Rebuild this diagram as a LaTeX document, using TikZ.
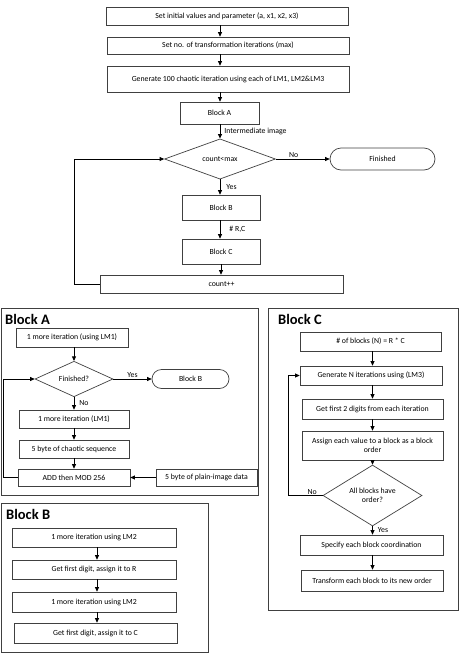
\documentclass[tikz,border=0pt]{standalone}
\usepackage{fontspec}
\setmainfont{Carlito}
\usetikzlibrary{shapes.geometric,arrows.meta}
\begin{document}
\begin{tikzpicture}[x=1pt,y=-1pt,
 txt/.style={font=\fontsize{7.8}{9}\selectfont},
 box/.style={txt, draw=black!75, line width=0.7pt, fill=white, inner sep=1pt, align=center},
 dia/.style={txt, diamond, draw=black!75, line width=0.7pt, inner sep=0pt, align=center},
 frame/.style={draw=black!75, line width=0.9pt},
 arr/.style={-{Triangle[length=4.5pt,width=4pt]}, line width=0.8pt},
 lbl/.style={txt, inner sep=1pt},
 title/.style={font=\fontsize{14.5}{16}\selectfont\bfseries, anchor=west, inner sep=0pt}
]
\useasboundingbox (0,0) rectangle (459,654);
% ---------- main flow ----------
\node[box, minimum width=242pt, minimum height=18pt] (b1) at (227,16) {Set initial values and parameter (a, x1, x2, x3)};
\node[box, minimum width=242pt, minimum height=17pt] (b2) at (228,45.5) {Set no. of transformation iterations (max)};
\node[box, minimum width=242pt, minimum height=26pt] (b3) at (228,79) {Generate 100 chaotic iteration using each of LM1, LM2\&LM3};
\node[box, minimum width=79pt, minimum height=22pt] (bA) at (219.5,113) {Block A};
\node[dia, minimum width=111pt, minimum height=36pt] (d1) at (220,159) {count<max};
\node[box, minimum width=105pt, minimum height=22pt, rounded corners=11pt] (fin) at (382.5,159) {Finished};
\node[box, minimum width=78pt, minimum height=25pt] (bB) at (221,207.5) {Block B};
\node[box, minimum width=78pt, minimum height=25pt] (bC) at (221,251.5) {Block C};
\node[box, minimum width=243pt, minimum height=18pt] (cnt) at (221.5,284) {count++};
\coordinate (mL) at (74,0);
\draw[arr] (b1.south -| d1) -- (b2.north -| d1);
\draw[arr] (b2.south -| d1) -- (b3.north -| d1);
\draw[arr] (b3.south -| d1) -- (bA.north -| d1);
\draw[arr] (bA.south -| d1) -- node[lbl, right=3pt] {Intermediate image} (d1.north);
\draw[arr] (d1.east) -- node[lbl, above, pos=0.33] {No} (fin.west);
\draw[arr] (d1.south) -- node[lbl, right=5pt] {Yes} (bB.north -| d1);
\draw[arr] (bB.south -| d1) -- node[lbl, right=8pt] {\# R,C} (bC.north -| d1);
\draw[arr] (bC.south -| bB) -- (cnt.north -| bB);
\draw[arr] (cnt.west) -- (cnt.west -| mL) |- (d1.west);
% ---------- Block A ----------
\draw[frame] (1,308) rectangle (258,495);
\node[title] (tA) at (5,319) {Block A};
\node[box, minimum width=112pt, minimum height=19pt] (a1) at (72,337.5) {1 more iteration (using LM1)};
\node[dia, minimum width=78pt, minimum height=32pt] (ad) at (74,379) {Finished?};
\node[box, minimum width=77pt, minimum height=19pt, rounded corners=9.5pt] (aB) at (190.5,379) {Block B};
\node[box, minimum width=110pt, minimum height=18pt] (a2) at (74,419) {1 more iteration (LM1)};
\node[box, minimum width=110pt, minimum height=18pt] (a3) at (74,449) {5 byte of chaotic sequence};
\node[box, minimum width=112pt, minimum height=17pt] (a4) at (74,477.5) {ADD then MOD 256};
\node[box, minimum width=101pt, minimum height=17pt] (a5) at (206.5,477.5) {5 byte of plain-image data};
\coordinate (aL) at (3,0);
\draw[arr] (a1.south -| ad) -- (ad.north);
\draw[arr] (ad.east) -- node[lbl, above] {Yes} (aB.west);
\draw[arr] (ad.south) -- node[lbl, right=4pt] {No} (a2.north -| ad);
\draw[arr] (a2.south -| ad) -- (a3.north -| ad);
\draw[arr] (a3.south -| ad) -- (a4.north -| ad);
\draw[arr] (a5.west) -- (a4.east);
\draw[arr] (a4.west) -- (a4.west -| aL) |- (ad.west);
% ---------- Block B ----------
\draw[frame] (1,503) rectangle (208,652);
\node[title] (tB) at (6,514) {Block B};
\node[box, minimum width=164pt, minimum height=19pt] (bb1) at (94,537.5) {1 more iteration using LM2};
\node[box, minimum width=164pt, minimum height=19pt] (bb2) at (94,569.5) {Get first digit, assign it to R};
\node[box, minimum width=164pt, minimum height=20pt] (bb3) at (94,602) {1 more iteration using LM2};
\node[box, minimum width=163pt, minimum height=20pt] (bb4) at (95.5,633) {Get first digit, assign it to C};
\coordinate (bx) at (97,0);
\draw[arr] (bb1.south -| bx) -- (bb2.north -| bx);
\draw[arr] (bb2.south -| bx) -- (bb3.north -| bx);
\draw[arr] (bb3.south -| bx) -- (bb4.north -| bx);
% ---------- Block C ----------
\draw[frame] (268,308) rectangle (458,610);
\node[title] (tC) at (278,319) {Block C};
\node[box, minimum width=141pt, minimum height=19pt] (c1) at (370.5,341.5) {\# of blocks (N) = R * C};
\node[box, minimum width=142pt, minimum height=19pt] (c2) at (371,375.5) {Generate N iterations using (LM3)};
\node[box, minimum width=141pt, minimum height=20pt] (c3) at (372.5,409) {Get first 2 digits from each iteration};
\node[box, minimum width=141pt, minimum height=29pt] (c4) at (372.5,445.5) {Assign each value to a block as a block\\order};
\node[dia, minimum width=99pt, minimum height=46pt] (cd) at (372.5,495.5) {All blocks have\\order?};
\node[box, minimum width=143pt, minimum height=20pt] (c5) at (371.5,545) {Specify each block coordination};
\node[box, minimum width=142pt, minimum height=21pt] (c6) at (372,580.5) {Transform each block to its new order};
\coordinate (cx) at (372.5,0);
\coordinate (cL) at (288,0);
\draw[arr] (c1.south -| cx) -- (c2.north -| cx);
\draw[arr] (c2.south -| cx) -- (c3.north -| cx);
\draw[arr] (c3.south -| cx) -- (c4.north -| cx);
\draw[arr] (c4.south -| cx) -- (cd.north -| cx);
\draw[arr] (cd.south -| cx) -- node[lbl, right=4pt] {Yes} (c5.north -| cx);
\draw[arr] (c5.south -| cx) -- (c6.north -| cx);
\draw[arr] (cd.west) -- node[lbl, above, pos=0.3] {No} (cd.west -| cL) |- (c2.west);
\end{tikzpicture}
\end{document}
